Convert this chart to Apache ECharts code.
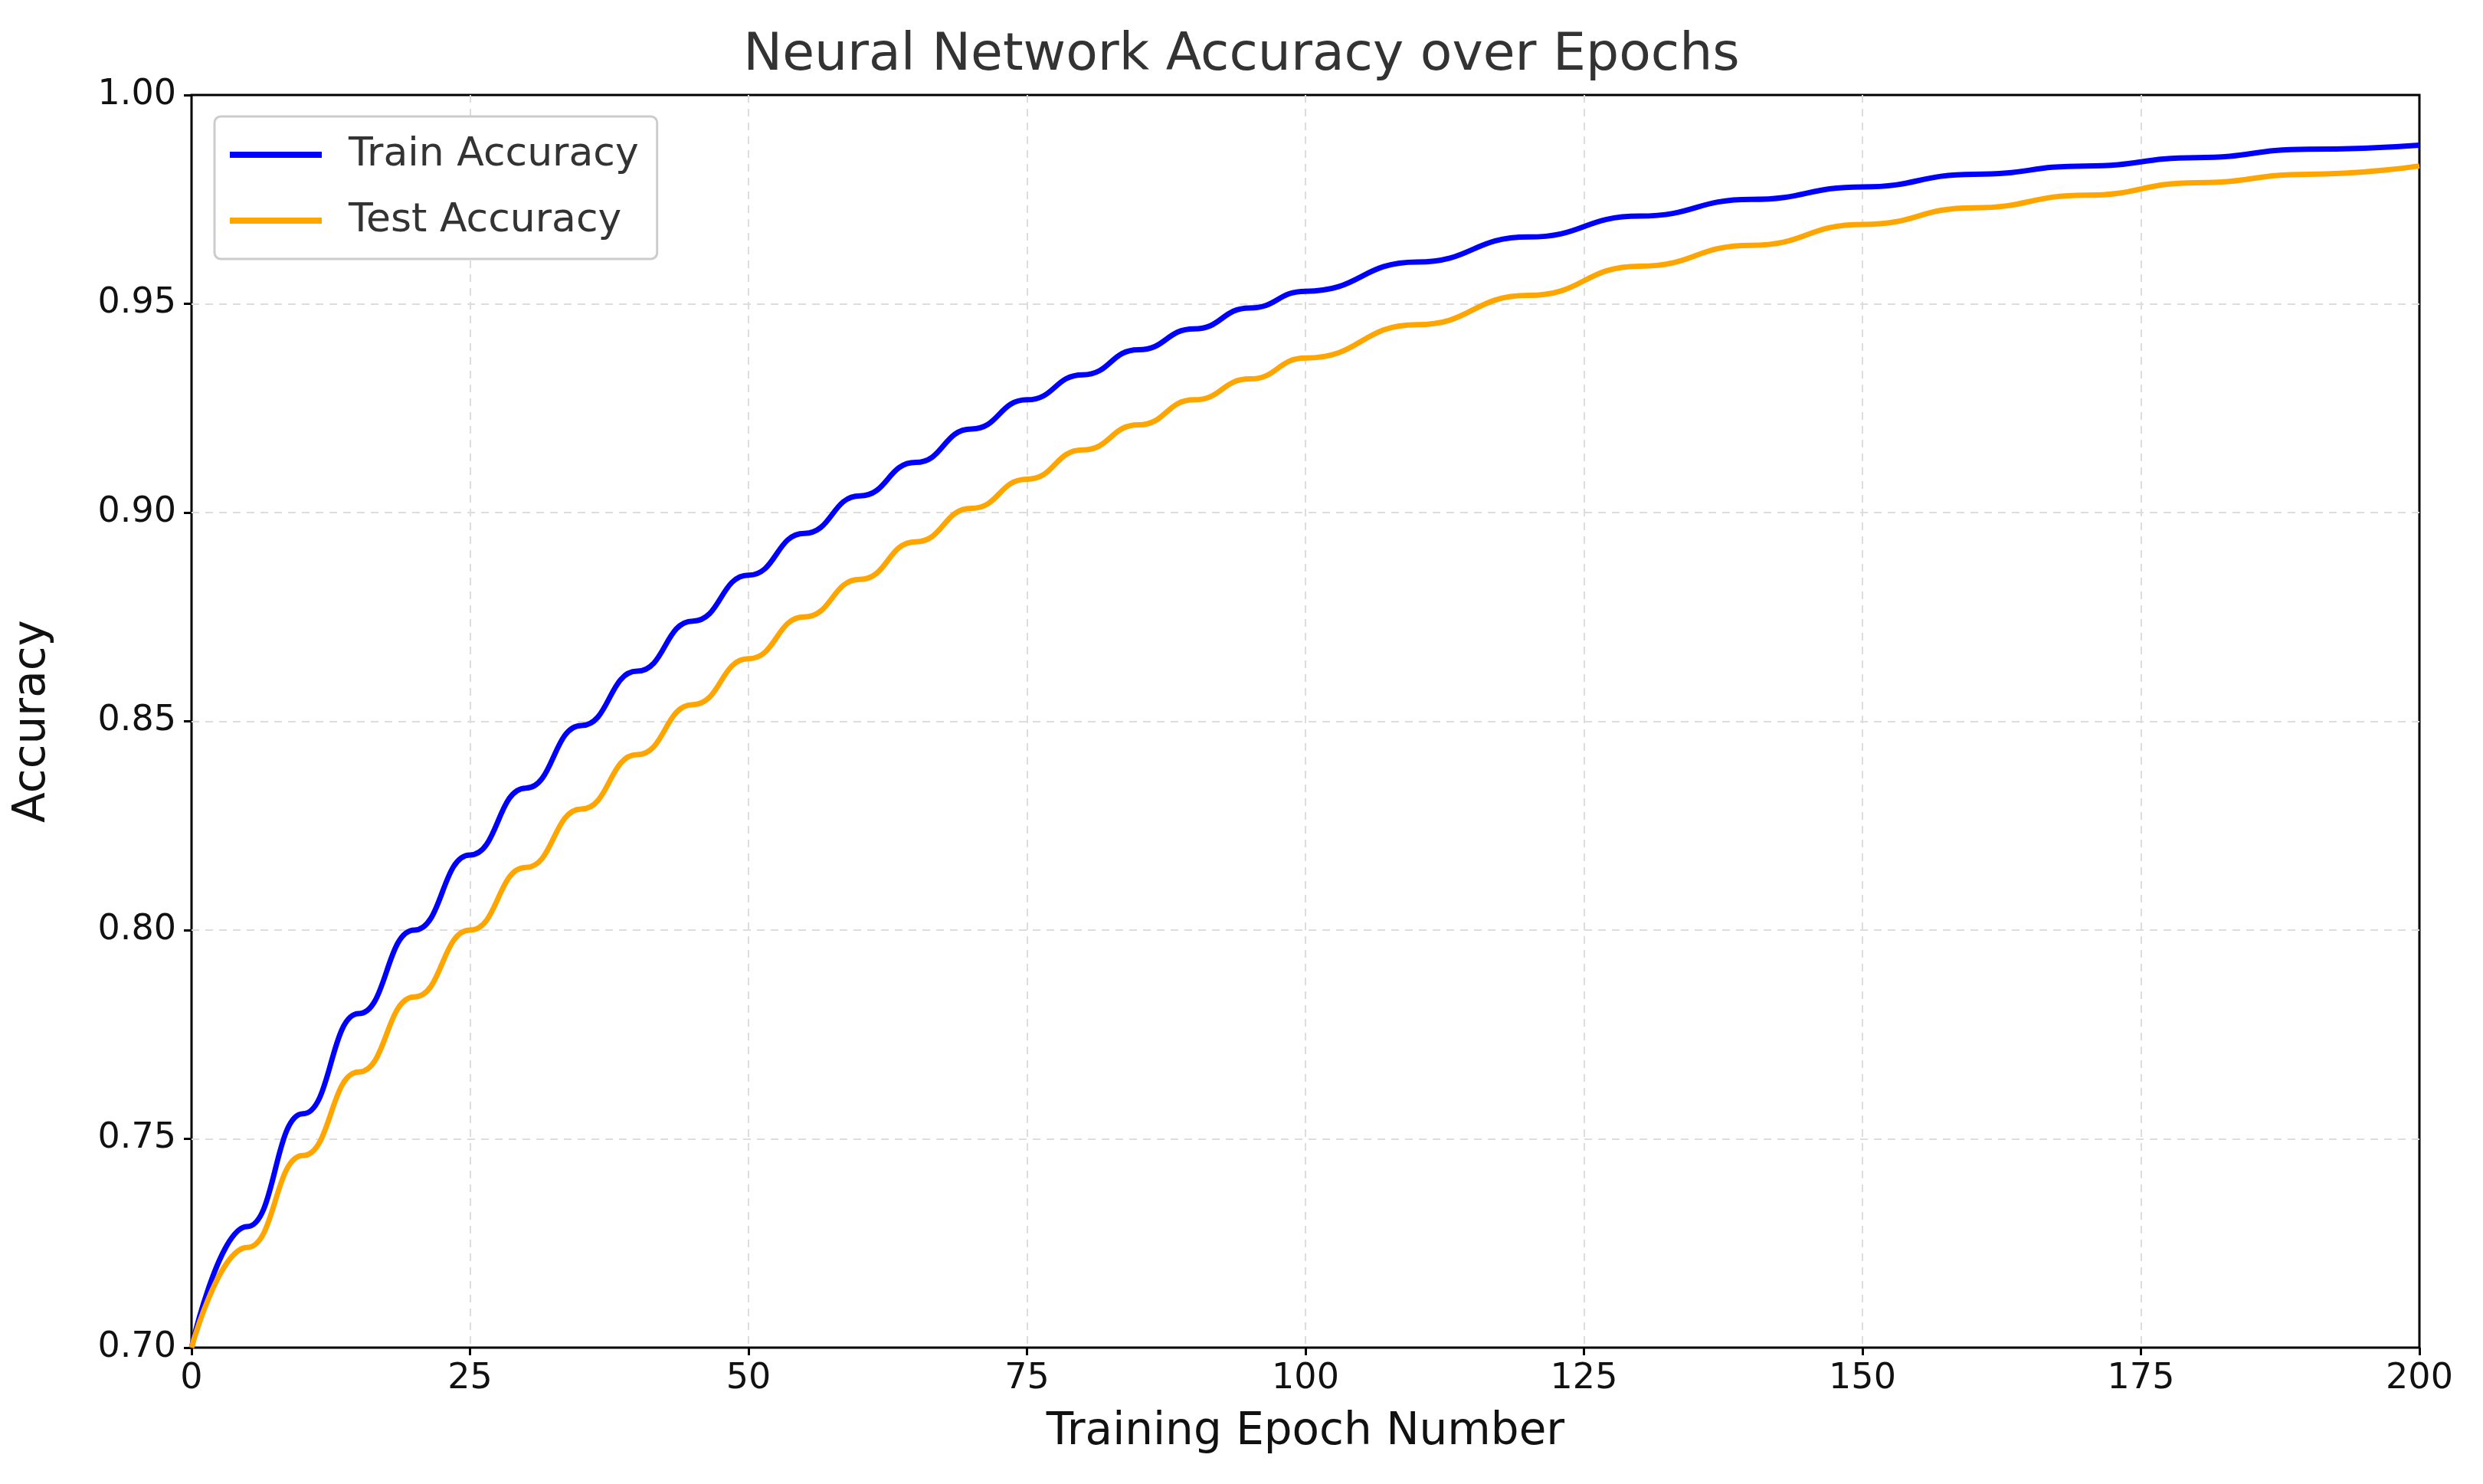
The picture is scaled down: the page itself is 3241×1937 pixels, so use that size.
<!DOCTYPE html>
<html><head><meta charset="utf-8">
<script src="https://cdn.jsdelivr.net/npm/echarts@6/dist/echarts.min.js"></script>
<style>html,body{margin:0;padding:0;background:#fff}#c{width:3241px;height:1937px}</style>
</head><body><div id="c"></div>
<script>
const epochs = [0,5,10,15,20,25,30,35,40,45,50,55,60,65,70,75,80,85,90,95,100,110,120,130,140,150,160,170,180,190,200];
const trainAcc = [0.700,0.729,0.756,0.780,0.800,0.818,0.834,0.849,0.862,0.874,0.885,0.895,0.904,0.912,0.920,0.927,0.933,0.939,0.944,0.949,0.953,0.960,0.966,0.971,0.975,0.978,0.981,0.983,0.985,0.987,0.988];
const testAcc  = [0.700,0.724,0.746,0.766,0.784,0.800,0.815,0.829,0.842,0.854,0.865,0.875,0.884,0.893,0.901,0.908,0.915,0.921,0.927,0.932,0.937,0.945,0.952,0.959,0.964,0.969,0.973,0.976,0.979,0.981,0.983];
const xTicks = [0,25,50,75,100,125,150,175,200];
const yTicks = [0.70,0.75,0.80,0.85,0.90,0.95,1.00];
const ff = 'DejaVu Sans';
const chart = echarts.init(document.getElementById('c'));
const split = {show:true,showMinLine:false,showMaxLine:false,lineStyle:{type:[10,8],color:'#ddd',width:2}};
chart.setOption({
  animation:false,
  title:{text:'Neural Network Accuracy over Epochs',left:'center',top:34,textStyle:{fontFamily:ff,fontSize:68,fontWeight:'normal',color:'#333'}},
  legend:{left:280,top:152,orient:'vertical',itemWidth:120,itemHeight:8,itemGap:34,padding:[24,24,24,20],
    borderColor:'#ccc',borderWidth:3,borderRadius:8,backgroundColor:'#fff',
    textStyle:{fontFamily:ff,fontSize:52,color:'#333',padding:[0,0,0,30]},icon:'rect'},
  grid:{left:250,right:83,top:124,bottom:178,show:true,borderColor:'#000',borderWidth:3},
  xAxis:{type:'value',min:0,max:200,interval:25,name:'Training Epoch Number',nameLocation:'middle',nameGap:82,
    nameTextStyle:{fontFamily:ff,fontSize:58,color:'#111'},
    axisLine:{show:false},axisTick:{show:true,length:10,lineStyle:{color:'#000',width:3}},
    axisLabel:{fontFamily:ff,fontSize:46,color:'#111',margin:18,formatter:v=>xTicks.includes(v)?String(v):''},
    splitLine:split},
  yAxis:{type:'value',min:0.70,max:1.00,interval:0.05,name:'Accuracy',nameLocation:'middle',nameGap:178,
    nameTextStyle:{fontFamily:ff,fontSize:58,color:'#111'},
    axisLine:{show:false},axisTick:{show:true,length:10,lineStyle:{color:'#000',width:3}},
    axisLabel:{fontFamily:ff,fontSize:46,color:'#111',margin:20,formatter:v=>v.toFixed(2)},
    splitLine:split},
  series:[
    {name:'Train Accuracy',type:'line',smooth:0.5,smoothMonotone:'x',showSymbol:false,color:'#0000ff',lineStyle:{width:7,color:'#0000ff'},data:epochs.map((e,i)=>[e,trainAcc[i]])},
    {name:'Test Accuracy',type:'line',smooth:0.5,smoothMonotone:'x',showSymbol:false,color:'#ffa500',lineStyle:{width:7,color:'#ffa500'},data:epochs.map((e,i)=>[e,testAcc[i]])}
  ]
});
</script></body></html>
